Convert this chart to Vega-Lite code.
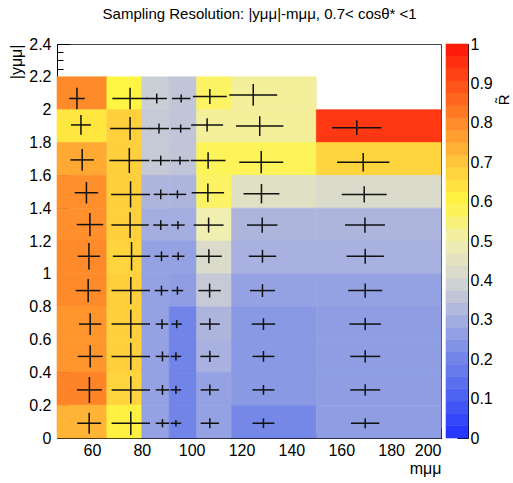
{
  "$schema": "https://vega.github.io/schema/vega-lite/v6.json",
  "padding": {"left": 8, "top": 6, "right": 0, "bottom": 0},
  "title": {"text": "Sampling Resolution: |yμμ|-mμμ, 0.7< cosθ* <1", "fontSize": 15, "font": "Liberation Sans", "fontWeight": "normal", "color": "#000", "anchor": "middle", "offset": 14},
  "spacing": 3,
  "config": {
    "font": "Liberation Sans",
    "view": {"stroke": null},
    "axis": {"labelFont": "Liberation Sans", "labelFontSize": 16, "labelColor": "#000", "titleFont": "Liberation Sans", "titleFontSize": 16, "titleFontWeight": "normal", "titleColor": "#000", "grid": false, "tickColor": "#000", "domainColor": "#000", "tickWidth": 1, "labelOverlap": false}
  },
  "datasets": {
    "cells": [
      {"mlo":46,"mhi":66,"ylo":2.0,"yhi":2.2,"R":0.8},
      {"mlo":46,"mhi":66,"ylo":1.8,"yhi":2.0,"R":0.63},
      {"mlo":46,"mhi":66,"ylo":1.6,"yhi":1.8,"R":0.75},
      {"mlo":46,"mhi":66,"ylo":1.4,"yhi":1.6,"R":0.79},
      {"mlo":46,"mhi":66,"ylo":1.2,"yhi":1.4,"R":0.79},
      {"mlo":46,"mhi":66,"ylo":1.0,"yhi":1.2,"R":0.8},
      {"mlo":46,"mhi":66,"ylo":0.8,"yhi":1.0,"R":0.8},
      {"mlo":46,"mhi":66,"ylo":0.6,"yhi":0.8,"R":0.78},
      {"mlo":46,"mhi":66,"ylo":0.4,"yhi":0.6,"R":0.78},
      {"mlo":46,"mhi":66,"ylo":0.2,"yhi":0.4,"R":0.81},
      {"mlo":46,"mhi":66,"ylo":0.0,"yhi":0.2,"R":0.73},
      {"mlo":66,"mhi":80,"ylo":2.0,"yhi":2.2,"R":0.6},
      {"mlo":66,"mhi":80,"ylo":1.8,"yhi":2.0,"R":0.68},
      {"mlo":66,"mhi":80,"ylo":1.6,"yhi":1.8,"R":0.68},
      {"mlo":66,"mhi":80,"ylo":1.4,"yhi":1.6,"R":0.68},
      {"mlo":66,"mhi":80,"ylo":1.2,"yhi":1.4,"R":0.68},
      {"mlo":66,"mhi":80,"ylo":1.0,"yhi":1.2,"R":0.67},
      {"mlo":66,"mhi":80,"ylo":0.8,"yhi":1.0,"R":0.68},
      {"mlo":66,"mhi":80,"ylo":0.6,"yhi":0.8,"R":0.68},
      {"mlo":66,"mhi":80,"ylo":0.4,"yhi":0.6,"R":0.68},
      {"mlo":66,"mhi":80,"ylo":0.2,"yhi":0.4,"R":0.67},
      {"mlo":66,"mhi":80,"ylo":0.0,"yhi":0.2,"R":0.61},
      {"mlo":80,"mhi":91,"ylo":2.0,"yhi":2.2,"R":0.38},
      {"mlo":80,"mhi":91,"ylo":1.8,"yhi":2.0,"R":0.37},
      {"mlo":80,"mhi":91,"ylo":1.6,"yhi":1.8,"R":0.37},
      {"mlo":80,"mhi":91,"ylo":1.4,"yhi":1.6,"R":0.32},
      {"mlo":80,"mhi":91,"ylo":1.2,"yhi":1.4,"R":0.3},
      {"mlo":80,"mhi":91,"ylo":1.0,"yhi":1.2,"R":0.27},
      {"mlo":80,"mhi":91,"ylo":0.8,"yhi":1.0,"R":0.27},
      {"mlo":80,"mhi":91,"ylo":0.6,"yhi":0.8,"R":0.27},
      {"mlo":80,"mhi":91,"ylo":0.4,"yhi":0.6,"R":0.27},
      {"mlo":80,"mhi":91,"ylo":0.2,"yhi":0.4,"R":0.27},
      {"mlo":80,"mhi":91,"ylo":0.0,"yhi":0.2,"R":0.27},
      {"mlo":91,"mhi":102,"ylo":2.0,"yhi":2.2,"R":0.36},
      {"mlo":91,"mhi":102,"ylo":1.8,"yhi":2.0,"R":0.36},
      {"mlo":91,"mhi":102,"ylo":1.6,"yhi":1.8,"R":0.36},
      {"mlo":91,"mhi":102,"ylo":1.4,"yhi":1.6,"R":0.32},
      {"mlo":91,"mhi":102,"ylo":1.2,"yhi":1.4,"R":0.3},
      {"mlo":91,"mhi":102,"ylo":1.0,"yhi":1.2,"R":0.27},
      {"mlo":91,"mhi":102,"ylo":0.8,"yhi":1.0,"R":0.26},
      {"mlo":91,"mhi":102,"ylo":0.6,"yhi":0.8,"R":0.2},
      {"mlo":91,"mhi":102,"ylo":0.4,"yhi":0.6,"R":0.2},
      {"mlo":91,"mhi":102,"ylo":0.2,"yhi":0.4,"R":0.2},
      {"mlo":91,"mhi":102,"ylo":0.0,"yhi":0.2,"R":0.2},
      {"mlo":102,"mhi":116,"ylo":2.0,"yhi":2.2,"R":0.57},
      {"mlo":102,"mhi":116,"ylo":1.8,"yhi":2.0,"R":0.52},
      {"mlo":102,"mhi":116,"ylo":1.6,"yhi":1.8,"R":0.58},
      {"mlo":102,"mhi":116,"ylo":1.4,"yhi":1.6,"R":0.57},
      {"mlo":102,"mhi":116,"ylo":1.2,"yhi":1.4,"R":0.5},
      {"mlo":102,"mhi":116,"ylo":1.0,"yhi":1.2,"R":0.42},
      {"mlo":102,"mhi":116,"ylo":0.8,"yhi":1.0,"R":0.37},
      {"mlo":102,"mhi":116,"ylo":0.6,"yhi":0.8,"R":0.32},
      {"mlo":102,"mhi":116,"ylo":0.4,"yhi":0.6,"R":0.31},
      {"mlo":102,"mhi":116,"ylo":0.2,"yhi":0.4,"R":0.27},
      {"mlo":102,"mhi":116,"ylo":0.0,"yhi":0.2,"R":0.27},
      {"mlo":116,"mhi":150,"ylo":2.0,"yhi":2.2,"R":0.52},
      {"mlo":116,"mhi":150,"ylo":1.8,"yhi":2.0,"R":0.52},
      {"mlo":116,"mhi":150,"ylo":1.6,"yhi":1.8,"R":0.58},
      {"mlo":116,"mhi":150,"ylo":1.4,"yhi":1.6,"R":0.44},
      {"mlo":116,"mhi":150,"ylo":1.2,"yhi":1.4,"R":0.32},
      {"mlo":116,"mhi":150,"ylo":1.0,"yhi":1.2,"R":0.31},
      {"mlo":116,"mhi":150,"ylo":0.8,"yhi":1.0,"R":0.27},
      {"mlo":116,"mhi":150,"ylo":0.6,"yhi":0.8,"R":0.25},
      {"mlo":116,"mhi":150,"ylo":0.4,"yhi":0.6,"R":0.25},
      {"mlo":116,"mhi":150,"ylo":0.2,"yhi":0.4,"R":0.25},
      {"mlo":116,"mhi":150,"ylo":0.0,"yhi":0.2,"R":0.21},
      {"mlo":150,"mhi":200,"ylo":1.8,"yhi":2.0,"R":0.94},
      {"mlo":150,"mhi":200,"ylo":1.6,"yhi":1.8,"R":0.67},
      {"mlo":150,"mhi":200,"ylo":1.4,"yhi":1.6,"R":0.42},
      {"mlo":150,"mhi":200,"ylo":1.2,"yhi":1.4,"R":0.32},
      {"mlo":150,"mhi":200,"ylo":1.0,"yhi":1.2,"R":0.31},
      {"mlo":150,"mhi":200,"ylo":0.8,"yhi":1.0,"R":0.27},
      {"mlo":150,"mhi":200,"ylo":0.6,"yhi":0.8,"R":0.26},
      {"mlo":150,"mhi":200,"ylo":0.4,"yhi":0.6,"R":0.26},
      {"mlo":150,"mhi":200,"ylo":0.2,"yhi":0.4,"R":0.26},
      {"mlo":150,"mhi":200,"ylo":0.0,"yhi":0.2,"R":0.26}
    ],
    "crosses": [
      {"mx":54.0,"xl":50.9,"xh":57.1,"yc":2.068,"yl":2.003,"yh":2.133},
      {"mx":55.6,"xl":51.6,"xh":59.6,"yc":1.907,"yl":1.847,"yh":1.967},
      {"mx":56.1,"xl":51.4,"xh":60.8,"yc":1.694,"yl":1.628,"yh":1.76},
      {"mx":57.8,"xl":53.1,"xh":62.5,"yc":1.494,"yl":1.428,"yh":1.56},
      {"mx":59.2,"xl":53.9,"xh":64.5,"yc":1.3,"yl":1.229,"yh":1.371},
      {"mx":58.8,"xl":54.3,"xh":63.3,"yc":1.107,"yl":1.026,"yh":1.188},
      {"mx":58.5,"xl":53.5,"xh":63.5,"yc":0.898,"yl":0.827,"yh":0.969},
      {"mx":59.3,"xl":54.8,"xh":63.8,"yc":0.694,"yl":0.628,"yh":0.76},
      {"mx":59.3,"xl":54.3,"xh":64.3,"yc":0.497,"yl":0.429,"yh":0.565},
      {"mx":59.0,"xl":54.0,"xh":64.0,"yc":0.293,"yl":0.214,"yh":0.372},
      {"mx":58.9,"xl":54.1,"xh":63.7,"yc":0.09,"yl":0.026,"yh":0.154},
      {"mx":75.3,"xl":68.2,"xh":82.4,"yc":2.068,"yl":2.003,"yh":2.133},
      {"mx":75.3,"xl":67.3,"xh":83.3,"yc":1.885,"yl":1.815,"yh":1.955},
      {"mx":75.0,"xl":67.0,"xh":83.0,"yc":1.69,"yl":1.614,"yh":1.766},
      {"mx":75.5,"xl":67.7,"xh":83.3,"yc":1.484,"yl":1.404,"yh":1.564},
      {"mx":75.3,"xl":67.8,"xh":82.8,"yc":1.297,"yl":1.219,"yh":1.375},
      {"mx":75.9,"xl":68.4,"xh":83.4,"yc":1.107,"yl":1.02,"yh":1.194},
      {"mx":75.6,"xl":67.9,"xh":83.3,"yc":0.898,"yl":0.815,"yh":0.981},
      {"mx":75.6,"xl":67.9,"xh":83.3,"yc":0.694,"yl":0.607,"yh":0.781},
      {"mx":75.6,"xl":67.9,"xh":83.3,"yc":0.497,"yl":0.414,"yh":0.58},
      {"mx":75.6,"xl":67.9,"xh":83.3,"yc":0.293,"yl":0.21,"yh":0.376},
      {"mx":75.6,"xl":67.9,"xh":83.3,"yc":0.09,"yl":0.019,"yh":0.161},
      {"mx":86.0,"xl":81.9,"xh":90.1,"yc":2.068,"yl":2.038,"yh":2.098},
      {"mx":86.9,"xl":82.9,"xh":90.9,"yc":1.885,"yl":1.855,"yh":1.915},
      {"mx":87.6,"xl":83.9,"xh":91.3,"yc":1.69,"yl":1.66,"yh":1.72},
      {"mx":87.6,"xl":84.8,"xh":90.4,"yc":1.484,"yl":1.454,"yh":1.514},
      {"mx":87.6,"xl":84.6,"xh":90.6,"yc":1.297,"yl":1.267,"yh":1.327},
      {"mx":87.9,"xl":85.1,"xh":90.7,"yc":1.107,"yl":1.077,"yh":1.137},
      {"mx":87.9,"xl":85.2,"xh":90.6,"yc":0.898,"yl":0.868,"yh":0.928},
      {"mx":88.1,"xl":85.6,"xh":90.6,"yc":0.694,"yl":0.664,"yh":0.724},
      {"mx":88.3,"xl":85.6,"xh":91.0,"yc":0.497,"yl":0.467,"yh":0.527},
      {"mx":88.3,"xl":85.6,"xh":91.0,"yc":0.293,"yl":0.263,"yh":0.323},
      {"mx":88.3,"xl":85.6,"xh":91.0,"yc":0.09,"yl":0.065,"yh":0.115},
      {"mx":95.8,"xl":92.1,"xh":99.5,"yc":2.068,"yl":2.043,"yh":2.093},
      {"mx":95.6,"xl":91.7,"xh":99.5,"yc":1.885,"yl":1.86,"yh":1.91},
      {"mx":95.3,"xl":91.6,"xh":99.0,"yc":1.69,"yl":1.665,"yh":1.715},
      {"mx":94.3,"xl":90.8,"xh":97.8,"yc":1.484,"yl":1.459,"yh":1.509},
      {"mx":94.5,"xl":91.8,"xh":97.2,"yc":1.297,"yl":1.272,"yh":1.322},
      {"mx":94.6,"xl":92.1,"xh":97.1,"yc":1.107,"yl":1.082,"yh":1.132},
      {"mx":94.3,"xl":92.0,"xh":96.6,"yc":0.898,"yl":0.873,"yh":0.923},
      {"mx":94.0,"xl":91.9,"xh":96.1,"yc":0.694,"yl":0.669,"yh":0.719},
      {"mx":93.7,"xl":91.6,"xh":95.8,"yc":0.497,"yl":0.472,"yh":0.522},
      {"mx":93.7,"xl":91.6,"xh":95.8,"yc":0.293,"yl":0.268,"yh":0.318},
      {"mx":93.7,"xl":91.6,"xh":95.8,"yc":0.09,"yl":0.07,"yh":0.11},
      {"mx":107.3,"xl":100.5,"xh":114.1,"yc":2.08,"yl":2.034,"yh":2.126},
      {"mx":106.2,"xl":99.8,"xh":112.6,"yc":1.907,"yl":1.867,"yh":1.947},
      {"mx":106.6,"xl":99.6,"xh":113.6,"yc":1.69,"yl":1.64,"yh":1.74},
      {"mx":106.5,"xl":100.0,"xh":113.0,"yc":1.494,"yl":1.438,"yh":1.55},
      {"mx":106.8,"xl":100.8,"xh":112.8,"yc":1.297,"yl":1.251,"yh":1.343},
      {"mx":106.9,"xl":101.7,"xh":112.1,"yc":1.107,"yl":1.065,"yh":1.149},
      {"mx":107.2,"xl":102.7,"xh":111.7,"yc":0.898,"yl":0.855,"yh":0.941},
      {"mx":107.3,"xl":103.3,"xh":111.3,"yc":0.694,"yl":0.658,"yh":0.73},
      {"mx":107.3,"xl":103.5,"xh":111.1,"yc":0.497,"yl":0.463,"yh":0.531},
      {"mx":107.3,"xl":103.6,"xh":111.0,"yc":0.293,"yl":0.26,"yh":0.326},
      {"mx":107.3,"xl":103.6,"xh":111.0,"yc":0.09,"yl":0.06,"yh":0.12},
      {"mx":124.7,"xl":115.1,"xh":134.3,"yc":2.09,"yl":2.024,"yh":2.156},
      {"mx":127.3,"xl":117.8,"xh":136.8,"yc":1.9,"yl":1.84,"yh":1.96},
      {"mx":127.9,"xl":119.1,"xh":136.7,"yc":1.68,"yl":1.612,"yh":1.748},
      {"mx":128.0,"xl":120.8,"xh":135.2,"yc":1.488,"yl":1.429,"yh":1.547},
      {"mx":128.3,"xl":122.2,"xh":134.4,"yc":1.297,"yl":1.251,"yh":1.343},
      {"mx":128.4,"xl":122.9,"xh":133.9,"yc":1.107,"yl":1.068,"yh":1.146},
      {"mx":128.4,"xl":123.4,"xh":133.4,"yc":0.898,"yl":0.859,"yh":0.937},
      {"mx":128.8,"xl":124.1,"xh":133.5,"yc":0.694,"yl":0.658,"yh":0.73},
      {"mx":128.8,"xl":124.4,"xh":133.2,"yc":0.497,"yl":0.464,"yh":0.53},
      {"mx":128.8,"xl":124.4,"xh":133.2,"yc":0.293,"yl":0.263,"yh":0.323},
      {"mx":128.8,"xl":124.4,"xh":133.2,"yc":0.09,"yl":0.06,"yh":0.12},
      {"mx":166.2,"xl":156.3,"xh":176.1,"yc":1.89,"yl":1.845,"yh":1.935},
      {"mx":168.8,"xl":158.3,"xh":179.3,"yc":1.68,"yl":1.624,"yh":1.736},
      {"mx":169.2,"xl":160.2,"xh":178.2,"yc":1.484,"yl":1.434,"yh":1.534},
      {"mx":169.5,"xl":161.5,"xh":177.5,"yc":1.297,"yl":1.251,"yh":1.343},
      {"mx":169.6,"xl":162.1,"xh":177.1,"yc":1.107,"yl":1.061,"yh":1.153},
      {"mx":169.6,"xl":162.8,"xh":176.4,"yc":0.898,"yl":0.855,"yh":0.941},
      {"mx":169.6,"xl":163.3,"xh":175.9,"yc":0.694,"yl":0.656,"yh":0.732},
      {"mx":169.6,"xl":163.6,"xh":175.6,"yc":0.497,"yl":0.46,"yh":0.534},
      {"mx":169.6,"xl":163.6,"xh":175.6,"yc":0.293,"yl":0.258,"yh":0.328},
      {"mx":169.6,"xl":163.9,"xh":175.3,"yc":0.09,"yl":0.06,"yh":0.12}
    ],
    "bands": [
      {"lo":0,"hi":0.03125,"mid":0.0156},
      {"lo":0.03125,"hi":0.0625,"mid":0.0469},
      {"lo":0.0625,"hi":0.09375,"mid":0.0781},
      {"lo":0.09375,"hi":0.125,"mid":0.1094},
      {"lo":0.125,"hi":0.15625,"mid":0.1406},
      {"lo":0.15625,"hi":0.1875,"mid":0.1719},
      {"lo":0.1875,"hi":0.21875,"mid":0.2031},
      {"lo":0.21875,"hi":0.25,"mid":0.2344},
      {"lo":0.25,"hi":0.28125,"mid":0.2656},
      {"lo":0.28125,"hi":0.3125,"mid":0.2969},
      {"lo":0.3125,"hi":0.34375,"mid":0.3281},
      {"lo":0.34375,"hi":0.375,"mid":0.3594},
      {"lo":0.375,"hi":0.40625,"mid":0.3906},
      {"lo":0.40625,"hi":0.4375,"mid":0.4219},
      {"lo":0.4375,"hi":0.46875,"mid":0.4531},
      {"lo":0.46875,"hi":0.5,"mid":0.4844},
      {"lo":0.5,"hi":0.53125,"mid":0.5156},
      {"lo":0.53125,"hi":0.5625,"mid":0.5469},
      {"lo":0.5625,"hi":0.59375,"mid":0.5781},
      {"lo":0.59375,"hi":0.625,"mid":0.6094},
      {"lo":0.625,"hi":0.65625,"mid":0.6406},
      {"lo":0.65625,"hi":0.6875,"mid":0.6719},
      {"lo":0.6875,"hi":0.71875,"mid":0.7031},
      {"lo":0.71875,"hi":0.75,"mid":0.7344},
      {"lo":0.75,"hi":0.78125,"mid":0.7656},
      {"lo":0.78125,"hi":0.8125,"mid":0.7969},
      {"lo":0.8125,"hi":0.84375,"mid":0.8281},
      {"lo":0.84375,"hi":0.875,"mid":0.8594},
      {"lo":0.875,"hi":0.90625,"mid":0.8906},
      {"lo":0.90625,"hi":0.9375,"mid":0.9219},
      {"lo":0.9375,"hi":0.96875,"mid":0.9531},
      {"lo":0.96875,"hi":1,"mid":0.9844}
    ]
  },
  "hconcat": [
    {
      "width": 384,
      "height": 394,
      "view": {"stroke": "#444", "strokeWidth": 1},
      "layer": [
        {
          "data": {"name": "cells"},
          "mark": {"type": "rect", "strokeWidth": 0.6},
          "encoding": {
            "x": {"field": "mlo", "type": "quantitative", "scale": {"domain": [46, 200], "nice": false, "zero": false},
                  "axis": {"values": [60, 80, 100, 120, 140, 160, 180, 200], "tickSize": -10, "labelPadding": 14, "domain": true, "title": "mμμ", "titleAnchor": "end", "titlePadding": 2, "format": "d"}},
            "x2": {"field": "mhi"},
            "y": {"field": "ylo", "type": "quantitative", "scale": {"domain": [0, 2.4], "nice": false, "zero": false},
                  "axis": {"values": [0, 0.2, 0.4, 0.6, 0.8, 1, 1.2, 1.4, 1.6, 1.8, 2, 2.2, 2.4], "tickSize": -12, "labelPadding": 18, "domain": true, "title": "|yμμ|", "titleAnchor": "end", "titlePadding": 4, "format": "~g"}},
            "y2": {"field": "yhi"},
            "color": {"field": "R", "type": "quantitative", "legend": null,
                      "scale": {"domain": [0, 0.1, 0.2, 0.3, 0.4, 0.5, 0.6, 0.7, 0.8, 0.9, 1], "range": ["#2030ff", "#4a5ff5", "#7184e8", "#a3ade0", "#d4d6d2", "#f0eeb0", "#fff542", "#ffc63a", "#ff8a2a", "#ff4f18", "#ff1408"], "interpolate": "rgb"}},
            "stroke": {"field": "R", "type": "quantitative", "legend": null,
                      "scale": {"domain": [0, 0.1, 0.2, 0.3, 0.4, 0.5, 0.6, 0.7, 0.8, 0.9, 1], "range": ["#2030ff", "#4a5ff5", "#7184e8", "#a3ade0", "#d4d6d2", "#f0eeb0", "#fff542", "#ffc63a", "#ff8a2a", "#ff4f18", "#ff1408"], "interpolate": "rgb"}}
          }
        },
        {
          "data": {"name": "crosses"},
          "mark": {"type": "rule", "color": "#111", "strokeWidth": 1.5},
          "encoding": {
            "x": {"field": "xl", "type": "quantitative",
                  "axis": {"values": [50, 55, 60, 65, 70, 75, 80, 85, 90, 95, 100, 105, 110, 115, 120, 125, 130, 135, 140, 145, 150, 155, 160, 165, 170, 175, 180, 185, 190, 195, 200], "tickSize": -5, "labels": false, "domain": false, "title": null, "orient": "bottom"}},
            "x2": {"field": "xh"},
            "y": {"field": "yc", "type": "quantitative",
                  "axis": {"values": [0.05, 0.1, 0.15, 0.25, 0.3, 0.35, 0.45, 0.5, 0.55, 0.65, 0.7, 0.75, 0.85, 0.9, 0.95, 1.05, 1.1, 1.15, 1.25, 1.3, 1.35, 1.45, 1.5, 1.55, 1.65, 1.7, 1.75, 1.85, 1.9, 1.95, 2.05, 2.1, 2.15, 2.25, 2.3, 2.35], "tickSize": -6, "labels": false, "domain": false, "title": null, "orient": "left"}}
          }
        },
        {
          "data": {"name": "crosses"},
          "mark": {"type": "rule", "color": "#111", "strokeWidth": 1.5},
          "encoding": {
            "x": {"field": "mx", "type": "quantitative", "axis": null},
            "y": {"field": "yl", "type": "quantitative", "axis": null},
            "y2": {"field": "yh"}
          }
        }
      ],
      "resolve": {"axis": {"x": "independent", "y": "independent"}}
    },
    {
      "width": 22,
      "height": 394,
      "data": {"name": "bands"},
      "mark": {"type": "rect", "strokeWidth": 0.6},
      "encoding": {
        "x": {"datum": 0, "type": "quantitative", "scale": {"domain": [0, 1], "nice": false}, "axis": null},
        "x2": {"datum": 1},
        "y": {"field": "lo", "type": "quantitative", "scale": {"domain": [0, 1], "nice": false},
              "axis": {"orient": "right", "values": [0, 0.1, 0.2, 0.3, 0.4, 0.5, 0.6, 0.7, 0.8, 0.9, 1], "format": "~g", "tickSize": -11, "labelPadding": 13, "domain": true, "title": "R̃", "titleFontSize": 15, "titleAnchor": null, "titleAngle": 270, "titleAlign": "right", "titleBaseline": "middle", "titleX": 35, "titleY": 50}},
        "y2": {"field": "hi"},
        "color": {"field": "mid", "type": "quantitative", "legend": null,
                  "scale": {"domain": [0, 0.1, 0.2, 0.3, 0.4, 0.5, 0.6, 0.7, 0.8, 0.9, 1], "range": ["#2030ff", "#4a5ff5", "#7184e8", "#a3ade0", "#d4d6d2", "#f0eeb0", "#fff542", "#ffc63a", "#ff8a2a", "#ff4f18", "#ff1408"], "interpolate": "rgb"}},
        "stroke": {"field": "mid", "type": "quantitative", "legend": null,
                  "scale": {"domain": [0, 0.1, 0.2, 0.3, 0.4, 0.5, 0.6, 0.7, 0.8, 0.9, 1], "range": ["#2030ff", "#4a5ff5", "#7184e8", "#a3ade0", "#d4d6d2", "#f0eeb0", "#fff542", "#ffc63a", "#ff8a2a", "#ff4f18", "#ff1408"], "interpolate": "rgb"}}
      }
    }
  ]
}
